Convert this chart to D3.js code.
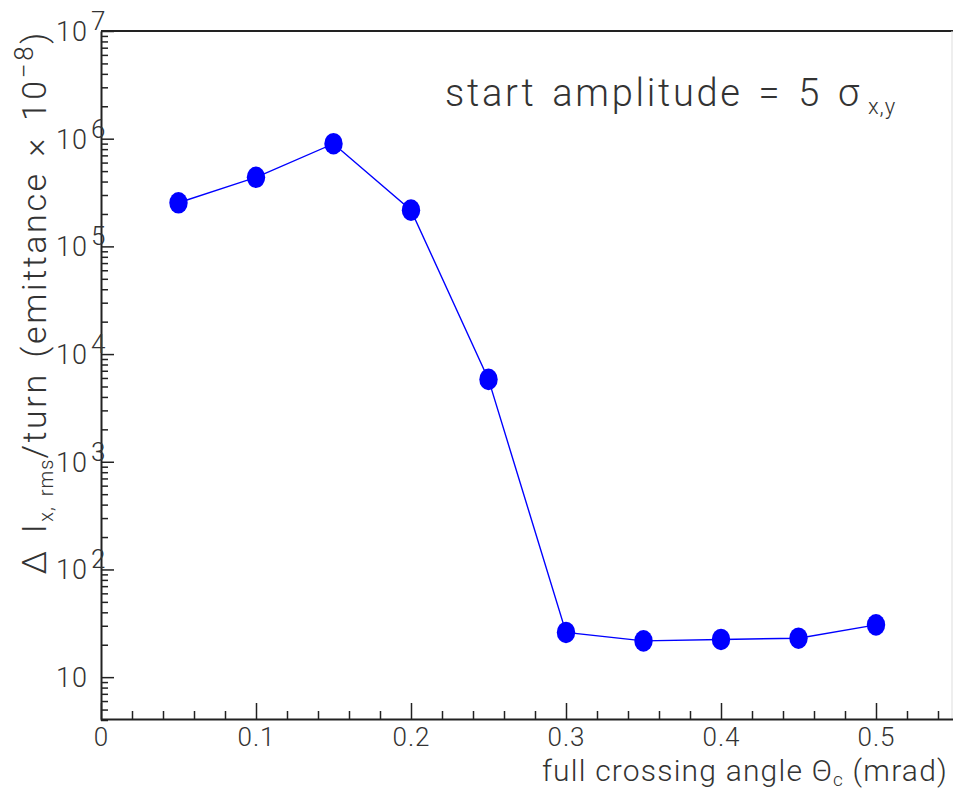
<!DOCTYPE html>
<html>
<head>
<meta charset="utf-8">
<script src="https://cdn.jsdelivr.net/npm/d3@7"></script>
<style>
  body { margin: 0; background: #fff; }
  svg { display: block; font-family: Roboto, "DejaVu Sans", sans-serif; font-weight: 300; }
  .axis path, .axis line { stroke: #222; }
</style>
</head>
<body>
<svg class="chart"></svg>
<script>
// crossing angle (mrad) and emittance growth per turn
var angles = [0.05, 0.10, 0.15, 0.20, 0.25, 0.30, 0.35, 0.40, 0.45, 0.50];
var growth = [2.54e5, 4.38e5, 8.98e5, 2.17e5, 5.82e3, 26.0, 21.7, 22.4, 23.0, 30.6];

var xMajor = [0, 0.1, 0.2, 0.3, 0.4, 0.5];
var xLabels = ["0", "0.1", "0.2", "0.3", "0.4", "0.5"];
var yMajor = [10, 1e2, 1e3, 1e4, 1e5, 1e6, 1e7];
var yExp = ["", "2", "3", "4", "5", "6", "7"];

var width = 953, height = 793;
var margin = {top: 31, right: 0, bottom: 74, left: 101};

var svg = d3.select(".chart").attr("width", width).attr("height", height);

var x = d3.scaleLinear()
	.domain([0, 0.55])
	.range([margin.left, 953.5]);

var y = d3.scaleLog()
	.domain([4, 1e7])
	.range([height - margin.bottom + 1, margin.top]);

// minor ticks: every 0.02 on x, 2..9 per decade on y
var xMinor = d3.range(0, 0.551, 0.02).filter(v => Math.abs(Math.round(v * 10) - v * 10) > 1e-6);
var yMinor = [];
for (var e = 0; e < 7; e++)
	for (var m = 2; m <= 9; m++) {
		var v = m * Math.pow(10, e);
		if (v >= 4 && v <= 1e7) yMinor.push(v);
	}

// frame
svg.append("line")
	.attr("x1", margin.left).attr("x2", width)
	.attr("y1", margin.top).attr("y2", margin.top)
	.attr("stroke", "#222").attr("stroke-width", 2);
svg.append("line")
	.attr("x1", width - 1).attr("x2", width - 1)
	.attr("y1", margin.top).attr("y2", y(4))
	.attr("stroke", "#ddd").attr("stroke-width", 1);

// x axis
var gx = svg.append("g")
	.attr("class", "axis")
	.attr("transform", `translate(0,${height - margin.bottom})`);
gx.call(d3.axisBottom(x).tickValues(xMinor).tickSizeInner(-8).tickSizeOuter(0).tickFormat(""))
	.call(g => g.selectAll("line").attr("stroke-width", 1.5))
	.call(g => g.select(".domain").remove());
gx.append("g")
	.call(d3.axisBottom(x).tickValues(xMajor).tickSizeInner(-16).tickSizeOuter(0).tickPadding(9)
		.tickFormat((d, i) => xLabels[i]))
	.call(g => g.select(".domain").attr("stroke-width", 2))
	.call(g => g.selectAll("line").attr("stroke-width", 1.5))
	.call(g => g.selectAll("text")
		.attr("font-size", 26).attr("font-family", "Roboto, sans-serif")
		.attr("letter-spacing", 1).attr("fill", "#333"));

// y axis
var gy = svg.append("g")
	.attr("class", "axis")
	.attr("transform", `translate(${margin.left},0)`);
gy.call(d3.axisLeft(y).tickValues(yMinor).tickSizeInner(-7).tickSizeOuter(0).tickFormat(""))
	.call(g => g.selectAll("line").attr("stroke-width", 1.5))
	.call(g => g.select(".domain").remove());
gy.append("g")
	.call(d3.axisLeft(y).tickValues(yMajor).tickSizeInner(-13).tickSizeOuter(0).tickFormat(""))
	.call(g => g.select(".domain").attr("stroke-width", 2))
	.call(g => g.selectAll("line").attr("stroke-width", 1.5))
	.call(g => g.selectAll(".tick").each(function(d, i) {
		var t = d3.select(this).append("text")
			.attr("x", -45).attr("dy", "0.35em")
			.attr("text-anchor", "start")
			.attr("font-size", 27).attr("font-family", "Roboto, sans-serif")
			.attr("letter-spacing", 1).attr("fill", "#333")
			.text("10");
		if (yExp[i] != "")
			t.append("tspan").attr("dx", 3).attr("dy", -11).attr("font-size", 26).text(yExp[i]);
	}));

// data line + markers
var line = d3.line()
	.x((d, i) => x(angles[i]))
	.y(d => y(d));

svg.append("path")
	.datum(growth)
	.attr("fill", "none")
	.attr("stroke", "#0000ff")
	.attr("stroke-width", 1.4)
	.attr("d", line);

svg.append("g")
	.selectAll("ellipse").data(growth).enter().append("ellipse")
		.attr("cx", (d, i) => x(angles[i]))
		.attr("cy", d => y(d))
		.attr("rx", 9.2)
		.attr("ry", 10.8)
		.attr("fill", "#0000ff");

// annotation
var note = svg.append("text")
	.attr("x", 445).attr("y", 106)
	.attr("font-size", 38).attr("letter-spacing", 2.7).attr("word-spacing", 4)
	.attr("fill", "#333");
note.append("tspan").text("start amplitude = 5 σ");
note.append("tspan").attr("font-size", 22).attr("letter-spacing", 1).attr("dx", 6).attr("dy", 8).text("x,y");

// axis titles
var xt = svg.append("text")
	.attr("x", 948).attr("y", 781)
	.attr("text-anchor", "end")
	.attr("font-size", 30).attr("letter-spacing", 1.2).attr("fill", "#333");
xt.append("tspan").text("full crossing angle Θ");
xt.append("tspan").attr("font-size", 19).attr("dy", 5).text("c");
xt.append("tspan").attr("dy", -5).text(" (mrad)");

var yt = svg.append("text")
	.attr("transform", "translate(46,30) rotate(-90)")
	.attr("text-anchor", "end")
	.attr("font-size", 34).attr("letter-spacing", 2.6).attr("word-spacing", 4)
	.attr("fill", "#333");
yt.append("tspan").text("Δ I");
yt.append("tspan").attr("font-size", 20).attr("letter-spacing", 1).attr("dy", 7).text("x, rms");
yt.append("tspan").attr("dy", -7).text("/turn (emittance × 10");
yt.append("tspan").attr("font-size", 26).attr("dy", -13).text("−8");
yt.append("tspan").attr("dy", 13).text(")");
</script>
</body>
</html>
